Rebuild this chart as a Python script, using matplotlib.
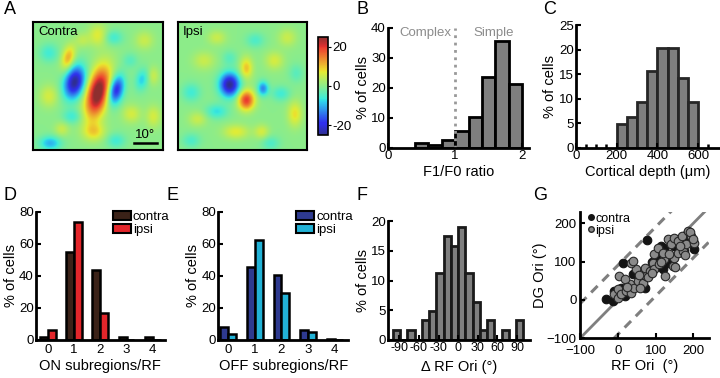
import numpy as np
import matplotlib
matplotlib.use('Agg')
import matplotlib.pyplot as plt
from matplotlib.colors import ListedColormap
from matplotlib.patches import Patch
from matplotlib.lines import Line2D

plt.rcParams['font.family'] = ['Liberation Sans', 'DejaVu Sans']
plt.rcParams['font.size'] = 9.5

# ---------------- data ----------------
# A: receptive field maps, described as gaussian blobs
# (x, y in box fraction from top-left, sx, sy, tilt deg, amplitude)
contra_x = [0.50, 0.32, 0.64, 0.27, 0.50, 0.47, 0.76, 0.12, 0.86, 0.93, 0.13, 0.84, 0.12, 0.62, 0.30, 0.64, 0.22, 0.38, 0.93, 0.75]
contra_y = [0.55, 0.47, 0.53, 0.28, 0.10, 0.86, 0.72, 0.58, 0.14, 0.74, 0.95, 0.45, 0.24, 0.12, 0.74, 0.93, 0.84, 0.14, 0.42, 0.30]
contra_sx = [0.06, 0.055, 0.04, 0.035, 0.05, 0.06, 0.05, 0.05, 0.05, 0.04, 0.06, 0.035, 0.05, 0.05, 0.05, 0.05, 0.04, 0.04, 0.03, 0.04]
contra_sy = [0.14, 0.09, 0.08, 0.07, 0.06, 0.05, 0.05, 0.06, 0.05, 0.06, 0.04, 0.06, 0.05, 0.04, 0.04, 0.04, 0.04, 0.04, 0.05, 0.04]
contra_tilt = [13, 13, 13, 13, 0, 0, 0, 0, 0, 0, 0, 10, 0, 0, 0, 0, 0, 0, 0, 0]
contra_amp = [28, -25, -21, 12, 7, 8, 6, 6, 5, 6, -10, -8, -6, -6, -6, -6, 5, 4, 5, -4]

ipsi_x = [0.40, 0.53, 0.66, 0.53, 0.91, 0.45, 0.20, 0.75, 0.15, 0.65, 0.30, 0.80, 0.10, 0.60, 0.85, 0.30, 0.10, 0.92, 0.40, 0.72]
ipsi_y = [0.49, 0.61, 0.52, 0.36, 0.72, 0.86, 0.30, 0.30, 0.76, 0.86, 0.70, 0.56, 0.55, 0.14, 0.12, 0.12, 0.93, 0.40, 0.28, 0.95]
ipsi_sx = [0.055, 0.045, 0.03, 0.035, 0.04, 0.07, 0.06, 0.05, 0.05, 0.04, 0.06, 0.05, 0.05, 0.05, 0.05, 0.05, 0.05, 0.04, 0.04, 0.05]
ipsi_sy = [0.065, 0.055, 0.04, 0.06, 0.07, 0.04, 0.05, 0.05, 0.04, 0.04, 0.04, 0.04, 0.05, 0.04, 0.05, 0.04, 0.04, 0.05, 0.04, 0.04]
ipsi_tilt = [0] * 20
ipsi_amp = [-25, 20, -13, 10, 8, 7, 5, 6, 5, 6, -7, -6, -6, -5, 5, 5, -5, -4, -4, -5]

# B: F1/F0 ratio histogram
f1f0_edges = [0.4, 0.6, 0.8, 1.0, 1.2, 1.4, 1.6, 1.8, 2.0]
f1f0_pct = [1.7, 0.9, 2.5, 5.5, 10.3, 23.5, 35.5, 21.1]

# C: cortical depth histogram
depth_edges = [200, 250, 300, 350, 400, 450, 500, 550, 600]
depth_pct = [4.8, 6.2, 9.4, 15.6, 20.3, 20.3, 14.1, 9.4]

# D / E: subregion counts
n_sub = [0, 1, 2, 3, 4]
on_contra = [1.7, 54.8, 43.8, 1.7, 1.7]
on_ipsi = [6.1, 73.4, 17.1, 0, 0]
off_contra = [7.9, 45.5, 40.4, 6.2, 0.8]
off_ipsi = [3.5, 62.5, 29.6, 4.8, 0]

# F: delta RF orientation histogram
dori_edges = np.linspace(-100, 100, 19)
dori_pct = [1.6, 0, 1.6, 0, 3.3, 4.8, 11.2, 17.5, 15.8,
            19.1, 11.2, 6.4, 1.6, 3.3, 0, 1.6, 0, 3.3]

# G: RF orientation vs DG orientation
contra_rf = [-30, -10, -13, -4, 13, 8, 40, 50, 77, 71, 60, 85, 106, 115, 123,
             132, 150, 176, 201, 195, 140, 100, 30, 20, 165, 180, 110, 90, 160, 120]
contra_dg = [3, 22, -3, 19, 95, 30, 67, 75, 155, 32, 55, 75, 110, 140, 136,
             97, 140, 127, 132, 150, 155, 85, 40, 10, 160, 165, 120, 100, 135, 80]
ipsi_rf = [-9, 0, 4, 0, 9, 22, 31, 35, 44, 18, 53, 66, 62, 75, 71, 84, 48, 35,
           40, 93, 97, 110, 123, 97, 106, 119, 132, 141, 150, 158, 146, 150, 158,
           172, 181, 171, 185, 194, 202, 125, 152, 178, 190, 200, 60, 25, 80, 115,
           135, 165, 55, 90]
ipsi_dg = [15, 28, 62, 6, 15, 23, 41, 19, 32, 54, 50, 45, 67, 62, 84, 76, 80, 97,
           101, 97, 80, 93, 106, 119, 136, 123, 158, 145, 162, 153, 88, 110, 123,
           127, 145, 166, 180, 166, 149, 62, 86, 118, 178, 160, 30, 35, 60, 100,
           120, 140, 65, 70]

# ---------------- helpers ----------------
W, H = 720, 378


def box(x0, y0, x1, y1):
    return [x0 / W, 1 - y1 / H, (x1 - x0) / W, (y1 - y0) / H]


def rf_map(xs, ys, sxs, sys_, tilts, amps, n=140):
    g = np.linspace(0, 1, n)
    X, Y = np.meshgrid(g, g)
    Z = np.zeros_like(X)
    for x0, y0, sx, sy, t, a in zip(xs, ys, sxs, sys_, tilts, amps):
        th = np.deg2rad(t)
        u = (X - x0) * np.cos(th) + (Y - y0) * np.sin(th)
        v = -(X - x0) * np.sin(th) + (Y - y0) * np.cos(th)
        Z += a * np.exp(-u ** 2 / (2 * sx ** 2) - v ** 2 / (2 * sy ** 2))
    return Z


def style(ax):
    for s in ['top', 'right']:
        ax.spines[s].set_visible(False)
    for s in ['left', 'bottom']:
        ax.spines[s].set_linewidth(2)
    ax.tick_params(direction='in', length=3.5, width=1.5, labelsize=9.5, pad=1.5)


jet = plt.get_cmap('jet')(np.linspace(0, 1, 256))
jet[:, :3] = 0.74 * jet[:, :3] + 0.26 * 0.72
rf_cmap = ListedColormap(jet)

fig = plt.figure(figsize=(7.2, 3.78), dpi=100)

# ---------------- A ----------------
axc = fig.add_axes(box(33, 22, 163, 150))
axi = fig.add_axes(box(178, 22, 307, 150))
for ax, z, lab in [(axc, rf_map(contra_x, contra_y, contra_sx, contra_sy, contra_tilt, contra_amp), 'Contra'),
                   (axi, rf_map(ipsi_x, ipsi_y, ipsi_sx, ipsi_sy, ipsi_tilt, ipsi_amp), 'Ipsi')]:
    im = ax.imshow(z, cmap=rf_cmap, vmin=-25, vmax=25, extent=[0, 1, 1, 0],
                   interpolation='bilinear', aspect='auto')
    ax.set_xticks([])
    ax.set_yticks([])
    for s in ax.spines.values():
        s.set_linewidth(1.5)
    ax.text(0.04, 0.97, lab, transform=ax.transAxes, ha='left', va='top', fontsize=9.5)
axc.plot([0.78, 0.95], [0.945, 0.945], color='k', lw=1.8)
axc.text(0.865, 0.93, '10°', ha='center', va='bottom', fontsize=9.5)
cax = fig.add_axes(box(318, 37, 328, 135))
cb = fig.colorbar(im, cax=cax, ticks=[-20, 0, 20])
cb.ax.set_yticklabels(['-20', '0', '20'])
cb.outline.set_linewidth(1.2)
cax.tick_params(length=2, labelsize=9.5, pad=1)

# ---------------- B ----------------
axb = fig.add_axes(box(388, 27.5, 529, 147.7))
style(axb)
axb.bar(f1f0_edges[:-1], f1f0_pct, width=np.diff(f1f0_edges), align='edge',
        color='#7f7f7f', edgecolor='k', linewidth=2)
axb.axvline(1, ymin=0, ymax=1, color='#999999', ls=':', lw=2)
axb.text(0.55, 38.3, 'Complex', color='#8c8c8c', ha='center', va='center', fontsize=9.5)
axb.text(1.57, 38.3, 'Simple', color='#8c8c8c', ha='center', va='center', fontsize=9.5)
axb.set_xlim(0, 2.1)
axb.set_ylim(0, 40)
axb.set_xticks([0, 1, 2])
axb.set_yticks([0, 10, 20, 30, 40])
axb.set_xlabel('F1/F0 ratio', fontsize=10.5, labelpad=2)
axb.set_ylabel('% of cells', fontsize=10.5, labelpad=1)

# ---------------- C ----------------
axcd = fig.add_axes(box(575.8, 25, 718.7, 147.7))
style(axcd)
axcd.bar(depth_edges[:-1], depth_pct, width=np.diff(depth_edges), align='edge',
         color='#7f7f7f', edgecolor='#262626', linewidth=2)
axcd.set_xlim(0, 700)
axcd.set_ylim(0, 25)
axcd.set_xticks([0, 200, 400, 600])
axcd.set_xticks([50, 100, 150, 650], minor=True)
axcd.tick_params(which='minor', direction='in', length=3, width=1.8)
axcd.set_yticks([0, 5, 10, 15, 20, 25])
axcd.set_xlabel('Cortical depth (μm)', fontsize=10.5, labelpad=2)
axcd.set_ylabel('% of cells', fontsize=10.5, labelpad=1)

# ---------------- D & E ----------------
pos = np.array(n_sub)
bw = 0.3
for rect, lims, con, ips, c1, c2, xl in [
        ((36, 211.7, 164.6, 340), (-0.45, 4.45), on_contra, on_ipsi, '#3b2218', '#e3262b', 'ON subregions/RF'),
        ((218.3, 211.7, 348, 340), (-0.375, 4.5), off_contra, off_ipsi, '#2e3a8f', '#22b2d6', 'OFF subregions/RF')]:
    ax = fig.add_axes(box(*rect))
    style(ax)
    ax.bar(pos - bw / 2, con, width=bw, color=c1, edgecolor='k', linewidth=1.8)
    ax.bar(pos + bw / 2, ips, width=bw, color=c2, edgecolor='k', linewidth=1.8)
    ax.set_xlim(*lims)
    ax.set_ylim(0, 80)
    ax.set_xticks(n_sub)
    ax.set_yticks([0, 20, 40, 60, 80])
    ax.tick_params(axis='x', length=0, pad=3)
    ax.set_xlabel(xl, fontsize=10.5, labelpad=2)
    ax.set_ylabel('% of cells', fontsize=10.5, labelpad=1)
    ax.legend([Patch(facecolor=c1, edgecolor='k', lw=1.5), Patch(facecolor=c2, edgecolor='k', lw=1.5)],
              ['contra', 'ipsi'], loc='upper right', bbox_to_anchor=(1.08, 1.05), frameon=False,
              fontsize=9.5, handlelength=1.4, handleheight=0.75, handletextpad=0.15,
              labelspacing=0.05, borderaxespad=0)

# ---------------- F ----------------
axf = fig.add_axes(box(388.3, 221.2, 530, 340))
style(axf)
axf.bar(dori_edges[:-1], dori_pct, width=np.diff(dori_edges), align='edge',
        color='#7f7f7f', edgecolor='#1a1a1a', linewidth=2)
axf.set_xlim(-107, 110)
axf.set_ylim(0, 20)
axf.set_xticks([-90, -60, -30, 0, 30, 60, 90])
axf.set_xticklabels(['-90', '-60', '-30', '0', '30', '60', '90'])
axf.tick_params(axis='x', labelsize=9)
axf.set_yticks([0, 5, 10, 15, 20])
axf.set_xlabel('Δ RF Ori (°)', fontsize=10.5, labelpad=4)
axf.set_ylabel('% of cells', fontsize=10.5, labelpad=1)

# ---------------- G ----------------
axg = fig.add_axes(box(580, 211.7, 708.5, 338.3))
style(axg)
diag = np.array([-100, 240])
axg.plot(diag, diag, color='#7f7f7f', lw=2, zorder=1)
axg.plot(diag, diag + 90, color='#7f7f7f', lw=2.2, ls=(0, (3, 2.2)), zorder=1)
axg.plot(diag, diag - 90, color='#7f7f7f', lw=2.2, ls=(0, (3, 2.2)), zorder=1)
axg.scatter(contra_rf, contra_dg, s=38, color='#141414', edgecolor='#141414', lw=0.8, zorder=2)
axg.scatter(ipsi_rf, ipsi_dg, s=38, color='#8a8a8a', edgecolor='#262626', lw=0.8, zorder=3)
axg.set_xlim(-100, 240)
axg.set_ylim(-100, 230)
axg.set_xticks([-100, 0, 100, 200])
axg.set_yticks([-100, 0, 100, 200])
axg.set_xticklabels(['\u2212100', '0', '100', '200'])
axg.set_yticklabels(['\u2212100', '0', '100', '200'])
axg.tick_params(axis='x', pad=5)
axg.tick_params(axis='y', pad=2.5)
axg.set_xlabel('RF Ori  (°)', fontsize=10.5, labelpad=1)
axg.set_ylabel('DG Ori (°)', fontsize=10.5, labelpad=0)
axg.legend([Line2D([], [], ls='', marker='o', ms=4, mfc='#141414', mec='#141414'),
            Line2D([], [], ls='', marker='o', ms=4, mfc='#8a8a8a', mec='#262626')],
           ['contra', 'ipsi'], loc='upper left', bbox_to_anchor=(0.0, 1.05), frameon=False,
           fontsize=9, handlelength=0.5, handletextpad=0.1, labelspacing=0.0, borderaxespad=0.2)

# panel letters
for x, y, s in [(10, 10, 'A'), (362, 10, 'B'), (550, 10, 'C'), (10, 195, 'D'),
                (173, 195, 'E'), (362, 195, 'F'), (540, 195, 'G')]:
    fig.text(x / W, 1 - y / H, s, fontsize=13, ha='center', va='center')

fig.savefig('out.png', dpi=100)
